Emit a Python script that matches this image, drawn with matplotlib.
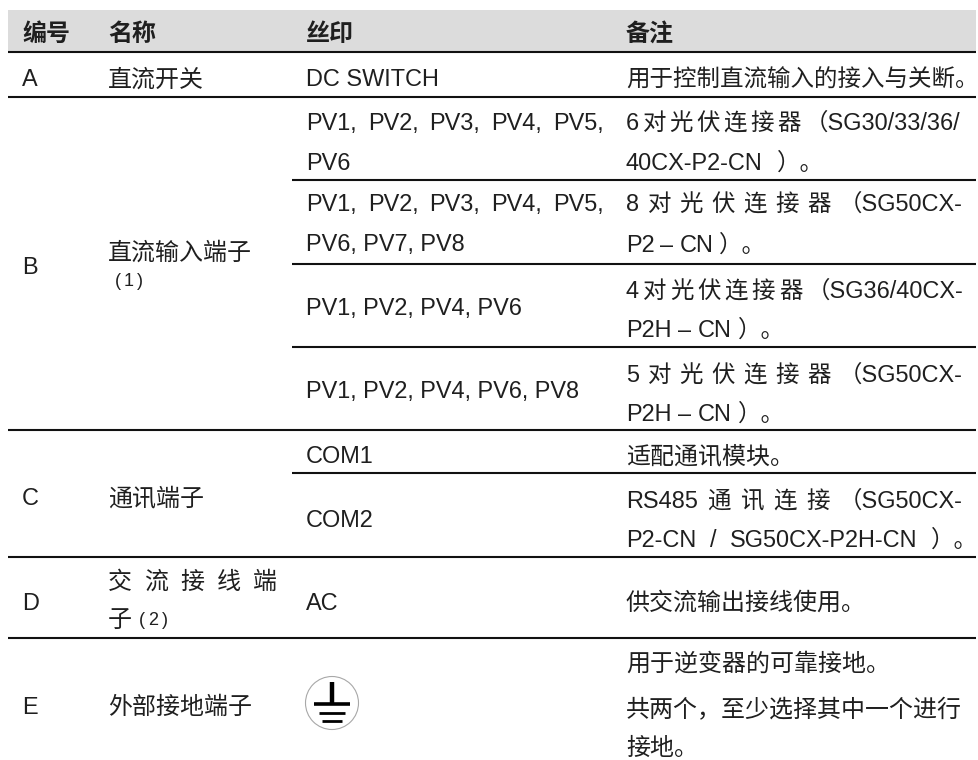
import matplotlib
matplotlib.use('Agg')
import matplotlib.pyplot as plt
from matplotlib.patches import Circle, Rectangle

plt.rcParams['font.family'] = ['Liberation Sans', 'Noto Sans CJK SC', 'DejaVu Sans']

W, H = 979, 760
FS = 16.9
FS_CJK = 17.25
INK = '#1f1f1f'

headers = ['编号', '名称', '丝印', '备注']
codes = ['A', 'B', 'C', 'D', 'E']
names = ['直流开关', '直流输入端子', '通讯端子', '外部接地端子', '子']
name_just = '交 流 接 线 端'
silk = ['DC SWITCH', 'PV6', 'PV6, PV7, PV8', 'PV1, PV2, PV4, PV6',
        'PV1, PV2, PV4, PV6, PV8', 'COM1', 'COM2', 'AC']
silk_just = ['PV1, PV2, PV3, PV4, PV5,', 'PV1, PV2, PV3, PV4, PV5,']
note_first = '用于控制直流输入的接入与关断。'
notes = ['适配通讯模块。', '供交流输出接线使用。',
         '用于逆变器的可靠接地。', '共两个，至少选择其中一个进行', '接地。']
notes_just = ['6 对 光 伏 连 接 器 （SG30/33/36/', '40CX-P2-CN ）。',
              '8 对 光 伏 连 接 器 （SG50CX-', 'P2 – CN ）。',
              '4 对 光 伏 连 接 器 （SG36/40CX-', 'P2H – CN ）。',
              '5 对 光 伏 连 接 器 （SG50CX-', 'P2H – CN ）。',
              'RS485 通 讯 连 接 （SG50CX-', 'P2-CN / SG50CX-P2H-CN ）。']
footnotes = ['( 1 )', '( 2 )']

header_x = [22, 108, 306, 626]
code_y = [86.5, 274, 505, 610, 714]
name_y = [86.5, 260, 505, 714, 628]
silk_y = [86.5, 170, 251, 315, 398, 463, 527, 610]
silk_just_y = [130, 211]
note_y = [463, 609.5, 670.5, 717.5, 754.5]
notes_just_y = [130, 170, 211, 252, 298, 337, 382, 421, 508, 547]
notes_just_end = [960, 824, 963, 766, 963, 785, 963, 785, 963, 978]
full_rules = [52, 97, 430, 557, 638]
sub_rules = [180, 264, 347, 473]

fig = plt.figure(figsize=(W / 100, H / 100), dpi=100)
ax = fig.add_axes([0, 0, 1, 1])
ax.set_xlim(0, W)
ax.set_ylim(H, 0)
ax.axis('off')


def put(x, y, s, size=FS, **kw):
    return ax.text(x, y, s, fontsize=size, color=INK, va='baseline', ha='left', **kw)


def justify(line, x0, x1, y, size=FS):
    # spread the space-separated pieces across the cell, as the source does
    parts = [put(x0, y, p, size=size) for p in line.split(' ')]
    r = fig.canvas.get_renderer()
    widths = [p.get_window_extent(r).width for p in parts]
    gap = (x1 - x0 - sum(widths)) / (len(parts) - 1)
    x = x0
    for p, w in zip(parts, widths):
        p.set_x(x)
        x += w + gap


ax.add_patch(Rectangle((8, 10), 968, 42, color='#dcdcdc', lw=0))
for x, s in zip(header_x, headers):
    put(x, 41, s, size=FS_CJK, fontweight='bold')
for y in full_rules:
    ax.plot([8, 976], [y, y], color='#111111', lw=1.5, solid_capstyle='butt')
for y in sub_rules:
    ax.plot([292, 976], [y, y], color='#111111', lw=1.5, solid_capstyle='butt')

for y, s in zip(code_y, codes):
    put(header_x[0], y, s)
for y, s in zip(name_y, names):
    put(header_x[1], y, s, size=FS_CJK)
for y, s in zip(silk_y, silk):
    put(header_x[2], y, s)
put(header_x[3], 86.5, note_first)
for y, s in zip(note_y, notes):
    put(header_x[3], y, s, size=FS_CJK)
for y, s in zip(silk_just_y, silk_just):
    justify(s, 306, 604, y)
for y, s, x1 in zip(notes_just_y, notes_just, notes_just_end):
    justify(s, 626, x1, y)

justify(name_just, 108, 277, 589, size=FS_CJK)
justify(footnotes[0], 115, 143, 286.5, size=13)
justify(footnotes[1], 139, 168, 625, size=13)

# earth symbol
ax.add_patch(Circle((332, 703), 26.5, fill=False, ec='#a8a8a8', lw=0.8))
ax.plot([332, 332], [681.5, 704], color='black', lw=3.2, solid_capstyle='butt')
ax.plot([314, 350], [704, 704], color='black', lw=2.6, solid_capstyle='butt')
ax.plot([319, 345], [712.5, 712.5], color='black', lw=2.0, solid_capstyle='butt')
ax.plot([322, 342], [721, 721], color='black', lw=2.0, solid_capstyle='butt')

fig.savefig('out.png', dpi=100)
